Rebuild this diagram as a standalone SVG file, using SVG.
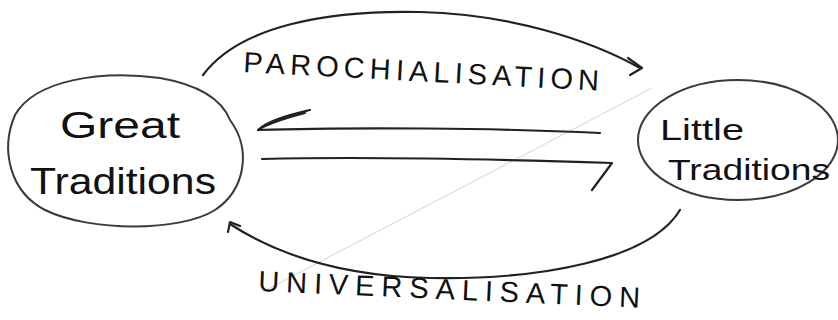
<svg xmlns="http://www.w3.org/2000/svg" width="838" height="320" viewBox="0 0 838 320">
<style>
.node{fill:none;stroke:#3a3a3a;stroke-width:2}
.lbl{font-family:"Liberation Sans",Arial,sans-serif;fill:#111}
.big{font-size:36px}
.mid{font-size:30px}
.cap{font-size:29px}
.con{fill:none;stroke:#222;stroke-width:2.2;stroke-linecap:round;stroke-linejoin:round}
.faint{fill:none;stroke:#d4d4d4;stroke-width:1}
</style>
<rect width="838" height="320" fill="#fff"/>
<g id="great-traditions">
<path class="node" d="M230,120 C252,150 245,190 215,210 C180,232 90,232 45,210 C10,192 0,150 15,115 C35,80 100,70 160,78 C200,85 222,100 230,120 Z"/>
<text class="lbl big" x="60" y="138" textLength="120" lengthAdjust="spacingAndGlyphs">Great</text>
<text class="lbl big" x="30" y="194" textLength="186" lengthAdjust="spacingAndGlyphs">Traditions</text>
</g>
<g id="little-traditions">
<ellipse class="node" cx="738" cy="140" rx="100" ry="60"/>
<text class="lbl mid" x="660" y="140" textLength="84" lengthAdjust="spacingAndGlyphs">Little</text>
<text class="lbl mid" x="668" y="180" textLength="162" lengthAdjust="spacingAndGlyphs">Traditions</text>
</g>
<g id="connectors">
<line class="faint" x1="652" y1="88" x2="262" y2="292"/>
<path class="con" d="M203,75 C240,25 330,10 420,12 C510,14 590,40 640,68"/>
<path class="con" d="M628,58 L642,68 L630,75"/>
<path class="con" d="M600,133 C500,128 350,127 258,130"/>
<path class="con" d="M310,110 C290,115 268,120 258,130 C270,122 290,117 305,113" stroke-width="3"/>
<path class="con" d="M262,159 C380,156 520,160 612,163 L592,190"/>
<path class="con" d="M680,210 C650,260 540,280 430,278 C330,276 270,250 230,224"/>
<path class="con" d="M228,232 L230,222 L240,226" stroke-width="3"/>
</g>
<g id="labels">
<text class="lbl cap" transform="translate(243,72) rotate(3)" textLength="356" lengthAdjust="spacing">PAROCHIALISATION</text>
<text class="lbl cap" transform="translate(258,291) rotate(2.5)" textLength="382" lengthAdjust="spacing">UNIVERSALISATION</text>
</g>
</svg>
